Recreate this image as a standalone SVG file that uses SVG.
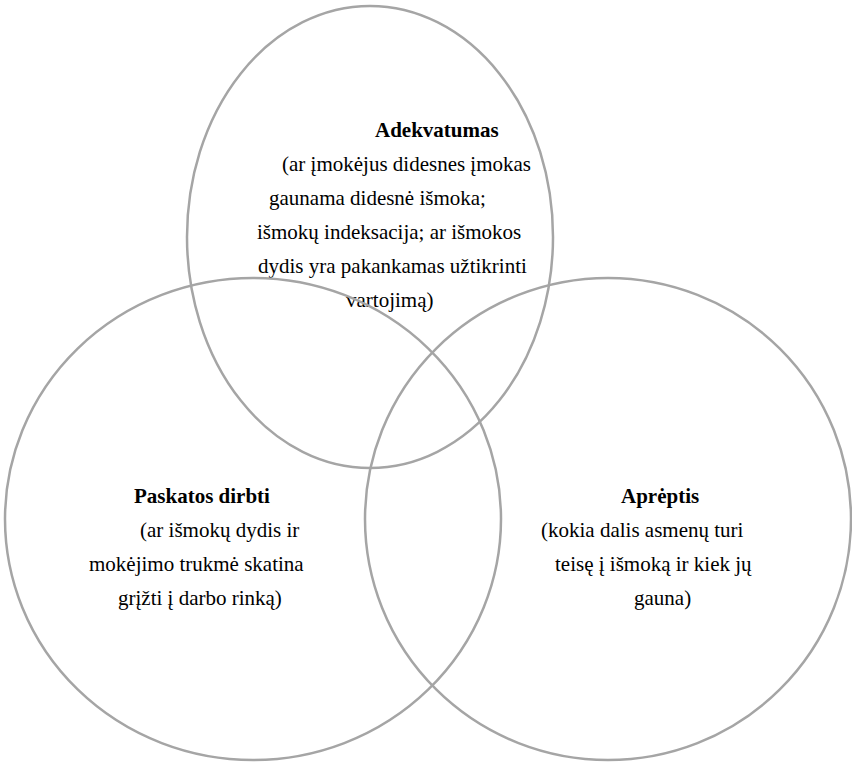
<svg xmlns="http://www.w3.org/2000/svg" width="852" height="764" viewBox="0 0 852 764">
<style>
.c{fill:none;stroke:#a5a5a5;stroke-width:2.5}
.t{font-family:"Liberation Serif","Times New Roman",serif;font-size:21px;fill:#000}
.b{font-weight:bold}
</style>
<rect width="852" height="764" fill="#fff"/>
<g id="adekvatumas">
<ellipse class="c" cx="370" cy="237" rx="183" ry="231"/>
<text class="t b" x="375" y="137">Adekvatumas</text>
<text class="t" x="282" y="171">(ar įmokėjus didesnes įmokas</text>
<text class="t" x="269" y="205">gaunama didesnė išmoka;</text>
<text class="t" x="257" y="239">išmokų indeksacija; ar išmokos</text>
<text class="t" x="258" y="273">dydis yra pakankamas užtikrinti</text>
<text class="t" x="346" y="307">vartojimą)</text>
</g>
<g id="paskatos">
<ellipse class="c" cx="253" cy="519" rx="248" ry="241"/>
<text class="t b" x="134" y="503">Paskatos dirbti</text>
<text class="t" x="140" y="537">(ar išmokų dydis ir</text>
<text class="t" x="89" y="571">mokėjimo trukmė skatina</text>
<text class="t" x="118" y="605">grįžti į darbo rinką)</text>
</g>
<g id="apreptis">
<ellipse class="c" cx="608" cy="519" rx="243" ry="241"/>
<text class="t b" x="621" y="503">Aprėptis</text>
<text class="t" x="541" y="537">(kokia dalis asmenų turi</text>
<text class="t" x="555" y="571">teisę į išmoką ir kiek jų</text>
<text class="t" x="634" y="605">gauna)</text>
</g>
<g id="connectors"/>
</svg>
